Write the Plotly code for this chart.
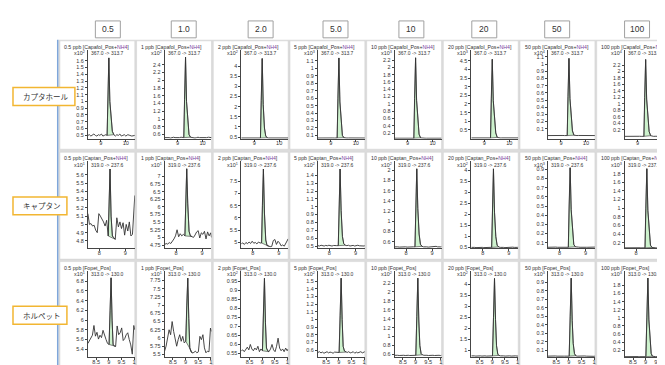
import plotly.graph_objects as go

W, H = 665, 365

# ---------------- data ----------------
HEADERS = ["0.5", "1.0", "2.0", "5.0", "10", "20", "50", "100"]
PANEL_CONC = ["0.5 ppb", "1 ppb", "2 ppb", "5 ppb", "10 ppb", "20 ppb", "50 ppb", "100 ppb"]
COMPOUNDS = ["カプタホール", "キャプタン", "ホルペット"]
CHANNELS = ["Capafol_Pos+NH4", "Captan_Pos+NH4", "Fopet_Pos"]
TRANSITIONS = ["367.0 -> 313.7", "319.0 -> 237.6", "313.0 -> 130.0"]
EXPONENTS = [[2, 2, 2, 3, 3, 3, 4, 4],
             [1, 1, 1, 2, 2, 2, 3, 3],
             [1, 1, 2, 2, 2, 2, 3, 3]]

X_RANGES = [[8.48, 10.36], [7.56, 9.36], [8.17, 10.03]]
X_TICKS = [[9, 10], [8, 9], [8.5, 9, 9.5, 10]]
X_TICK_TEXT = [["9", "10"], ["8", "9"], ["8.5", "9", "9.5", "1"]]
INT_WINDOWS = [[9.25, 9.52], [8.34, 8.61], [9.01, 9.27]]

# y axis ranges (display units) and tick (start, stop, step)
Y_RANGE_CAPAFOL = [[0.45, 1.76], [0.49, 2.79], [0.42, 4.8], [0.055, 1.25], [0.045, 2.48], [-0.02, 5.15], [-0.04, 1.2], [-0.075, 2.67]]
Y_TICKS_CAPAFOL = [[0.5, 1.6, 0.1], [0.6, 2.4, 0.2], [0.5, 4, 0.5], [0.1, 1.1, 0.1], [0.2, 2.2, 0.2], [0.5, 4.5, 0.5], [0.1, 1.1, 0.1], [0.2, 2.2, 0.2]]
Y_RANGE_CAPTAN = [[4.71, 5.765], [4.64, 7.5], [4.76, 8.31], [0.47, 1.58], [0.47, 2.18], [0.455, 4.42], [0.038, 0.99], [0.068, 2.09]]
Y_TICKS_CAPTAN = [[4.8, 5.6, 0.1], [4.75, 7, 0.25], [5, 7.5, 0.5], [0.5, 1.4, 0.1], [0.6, 2, 0.2], [0.5, 4, 0.5], [0.1, 0.9, 0.1], [0.2, 1.8, 0.2]]
Y_RANGE_FOLPET = [[5.24, 7.02], [5.42, 8.05], [0.53, 1.01], [0.51, 1.64], [0.54, 2.48], [0.685, 4.64], [0.019, 1.04], [0.03, 2.17]]
Y_TICKS_FOLPET = [[5.4, 6.8, 0.2], [5.5, 7.75, 0.25], [0.55, 0.95, 0.05], [0.6, 1.5, 0.1], [0.6, 2.2, 0.2], [1, 4, 0.5], [0.1, 0.9, 0.1], [0.2, 1.8, 0.2]]

# retention time grids (min)
T_CAPAFOL = [8.48, 8.54, 8.60, 8.66, 8.72, 8.78, 8.84, 8.90, 8.96, 9.02, 9.08, 9.14, 9.20,
             9.25, 9.28, 9.32, 9.36, 9.41, 9.46, 9.52,
             9.58, 9.64, 9.70, 9.76, 9.82, 9.88, 9.94, 10.00, 10.08, 10.16, 10.24, 10.36]
T_CAPTAN = [7.56, 7.62, 7.68, 7.74, 7.80, 7.86, 7.92, 7.98, 8.04, 8.10, 8.16, 8.22, 8.28,
            8.34, 8.37, 8.41, 8.45, 8.50, 8.55, 8.61,
            8.67, 8.73, 8.79, 8.85, 8.91, 8.97, 9.03, 9.09, 9.15, 9.21, 9.27, 9.33, 9.36]
T_FOLPET = [8.17, 8.23, 8.29, 8.35, 8.41, 8.47, 8.53, 8.59, 8.65, 8.71, 8.77, 8.83, 8.89, 8.95,
            9.01, 9.05, 9.09, 9.13, 9.17, 9.22, 9.27,
            9.33, 9.39, 9.45, 9.51, 9.57, 9.63, 9.69, 9.75, 9.81, 9.87, 9.93, 9.99, 10.03]

# Capafol intensities
CAPAFOL_05 = [0.50, 0.51, 0.49, 0.50, 0.52, 0.50, 0.49, 0.51, 0.50, 0.52, 0.49, 0.50, 0.51,
              0.50, 1.05, 1.64, 1.00, 0.70, 0.56, 0.51,
              0.49, 0.51, 0.50, 0.52, 0.49, 0.50, 0.51, 0.49, 0.51, 0.50, 0.49, 0.50]
CAPAFOL_1 = [0.52, 0.52, 0.53, 0.52, 0.51, 0.52, 0.53, 0.52, 0.52, 0.51, 0.52, 0.53, 0.52,
             0.52, 1.50, 2.60, 1.45, 0.85, 0.60, 0.53,
             0.52, 0.52, 0.51, 0.52, 0.53, 0.52, 0.52, 0.51, 0.52, 0.52, 0.53, 0.52]
CAPAFOL_2 = [0.46, 0.46, 0.47, 0.46, 0.45, 0.46, 0.47, 0.46, 0.46, 0.45, 0.46, 0.47, 0.46,
             0.46, 2.30, 4.37, 2.10, 0.95, 0.56, 0.47,
             0.46, 0.46, 0.45, 0.46, 0.47, 0.46, 0.46, 0.45, 0.46, 0.46, 0.47, 0.46]
CAPAFOL_5 = [0.065, 0.066, 0.065, 0.064, 0.065, 0.066, 0.065, 0.065, 0.064, 0.065, 0.066, 0.065, 0.065,
             0.066, 0.60, 1.14, 0.55, 0.25, 0.10, 0.07,
             0.065, 0.065, 0.066, 0.065, 0.064, 0.065, 0.065, 0.066, 0.065, 0.065, 0.064, 0.065]
CAPAFOL_10 = [0.06, 0.061, 0.06, 0.059, 0.06, 0.061, 0.06, 0.06, 0.059, 0.06, 0.061, 0.06, 0.06,
              0.06, 1.15, 2.26, 1.10, 0.48, 0.17, 0.07,
              0.06, 0.06, 0.061, 0.06, 0.059, 0.06, 0.06, 0.061, 0.06, 0.06, 0.059, 0.06]
CAPAFOL_20 = [0.03, 0.031, 0.03, 0.029, 0.03, 0.031, 0.03, 0.03, 0.029, 0.03, 0.031, 0.03, 0.03,
              0.03, 2.30, 4.60, 2.20, 0.95, 0.32, 0.06,
              0.03, 0.03, 0.031, 0.03, 0.029, 0.03, 0.03, 0.031, 0.03, 0.03, 0.029, 0.03]
CAPAFOL_50 = [0.005, 0.006, 0.005, 0.004, 0.005, 0.006, 0.005, 0.005, 0.004, 0.005, 0.006, 0.005, 0.005,
              0.005, 0.55, 1.08, 0.52, 0.22, 0.07, 0.01,
              0.005, 0.005, 0.006, 0.005, 0.004, 0.005, 0.005, 0.006, 0.005, 0.005, 0.004, 0.005]
CAPAFOL_100 = [0.0, 0.002, 0.0, -0.002, 0.0, 0.002, 0.0, 0.0, -0.002, 0.0, 0.002, 0.0, 0.0,
               0.0, 1.20, 2.37, 1.15, 0.50, 0.15, 0.02,
               0.0, 0.0, 0.002, 0.0, -0.002, 0.0, 0.0, 0.002, 0.0, 0.0, -0.002, 0.0]

# Captan intensities
CAPTAN_05 = [5.13, 5.00, 5.01, 4.98, 4.99, 4.93, 4.90, 5.13, 5.10, 5.07, 5.03, 4.98, 5.05,
             4.86, 5.25, 5.67, 5.10, 4.86, 4.84, 4.82,
             5.08, 4.97, 5.03, 4.95, 5.02, 4.87, 5.00, 4.92, 5.03, 4.86, 4.88, 5.25, 5.35]
CAPTAN_1 = [4.76, 4.80, 4.78, 4.83, 4.80, 4.86, 4.95, 5.05, 5.25, 5.02, 5.12, 5.05, 5.10,
            5.05, 6.20, 7.25, 6.10, 5.20, 5.05, 5.03,
            5.00, 5.08, 5.18, 5.22, 4.98, 5.15, 5.10, 5.20, 4.95, 5.18, 5.05, 5.15, 5.00]
CAPTAN_2 = [4.95, 4.98, 4.92, 5.00, 4.95, 5.02, 4.96, 5.05, 4.97, 5.00, 4.94, 5.02, 4.98,
            4.98, 6.50, 7.99, 6.20, 5.10, 4.88, 4.85,
            4.83, 4.84, 5.08, 5.12, 4.92, 5.05, 4.98, 4.86, 4.90, 4.85, 4.95, 5.10, 5.15]
CAPTAN_5 = [0.505, 0.50, 0.51, 0.505, 0.50, 0.508, 0.503, 0.51, 0.505, 0.50, 0.507, 0.503, 0.505,
            0.505, 1.00, 1.48, 0.95, 0.62, 0.53, 0.51,
            0.505, 0.51, 0.50, 0.505, 0.508, 0.50, 0.505, 0.51, 0.503, 0.50, 0.506, 0.50, 0.505]
CAPTAN_10 = [0.50, 0.505, 0.50, 0.495, 0.50, 0.505, 0.50, 0.50, 0.495, 0.50, 0.505, 0.50, 0.50,
             0.50, 1.30, 2.03, 1.25, 0.75, 0.55, 0.51,
             0.50, 0.505, 0.50, 0.495, 0.50, 0.505, 0.50, 0.50, 0.51, 0.50, 0.495, 0.50, 0.505]
CAPTAN_20 = [0.50, 0.51, 0.50, 0.49, 0.50, 0.51, 0.50, 0.50, 0.49, 0.50, 0.51, 0.50, 0.50,
             0.50, 2.30, 4.07, 2.10, 1.00, 0.60, 0.52,
             0.50, 0.51, 0.50, 0.49, 0.50, 0.51, 0.50, 0.50, 0.51, 0.50, 0.49, 0.50, 0.51]
CAPTAN_50 = [0.05, 0.052, 0.05, 0.048, 0.05, 0.052, 0.05, 0.05, 0.048, 0.05, 0.052, 0.05, 0.05,
             0.05, 0.50, 0.918, 0.46, 0.20, 0.08, 0.055,
             0.05, 0.052, 0.05, 0.048, 0.05, 0.052, 0.05, 0.05, 0.052, 0.05, 0.048, 0.05, 0.052]
CAPTAN_100 = [0.08, 0.082, 0.08, 0.078, 0.08, 0.082, 0.08, 0.08, 0.078, 0.08, 0.082, 0.08, 0.08,
              0.08, 1.00, 1.915, 0.95, 0.40, 0.14, 0.09,
              0.08, 0.082, 0.08, 0.078, 0.08, 0.082, 0.08, 0.08, 0.082, 0.08, 0.078, 0.08, 0.082]

# Folpet intensities
FOLPET_05 = [5.52, 5.57, 5.62, 5.69, 5.89, 5.67, 5.75, 5.61, 5.69, 5.64, 5.79, 5.67, 5.60, 5.52,
             5.50, 6.20, 6.87, 6.00, 5.49, 5.47, 5.46,
             5.88, 5.70, 5.74, 5.84, 5.58, 5.62, 5.70, 5.74, 5.60, 5.49, 5.30, 5.89, 5.80]
FOLPET_1 = [5.60, 5.75, 6.00, 6.25, 6.10, 6.50, 6.20, 6.00, 5.75, 5.95, 6.10, 5.90, 6.05, 5.85,
            5.90, 7.00, 7.82, 6.60, 5.70, 5.58, 5.55,
            5.56, 5.60, 5.55, 5.58, 6.05, 5.95, 6.10, 5.70, 5.55, 5.60, 5.58, 6.30, 6.20]
FOLPET_2 = [0.565, 0.57, 0.56, 0.575, 0.585, 0.57, 0.60, 0.575, 0.565, 0.58, 0.57, 0.59, 0.56, 0.575,
            0.565, 0.78, 0.967, 0.72, 0.58, 0.565, 0.56,
            0.575, 0.60, 0.57, 0.56, 0.59, 0.635, 0.58, 0.565, 0.575, 0.56, 0.58, 0.565, 0.575]
FOLPET_5 = [0.57, 0.58, 0.565, 0.575, 0.56, 0.57, 0.58, 0.565, 0.575, 0.57, 0.56, 0.575, 0.57, 0.565,
            0.57, 1.05, 1.54, 1.00, 0.65, 0.59, 0.575,
            0.57, 0.58, 0.565, 0.57, 0.58, 0.56, 0.575, 0.565, 0.57, 0.58, 0.565, 0.575, 0.58]
FOLPET_10 = [0.58, 0.585, 0.58, 0.575, 0.58, 0.59, 0.58, 0.575, 0.585, 0.58, 0.575, 0.58, 0.585, 0.58,
             0.58, 1.45, 2.31, 1.35, 0.80, 0.62, 0.59,
             0.58, 0.585, 0.58, 0.575, 0.58, 0.585, 0.58, 0.575, 0.58, 0.585, 0.58, 0.575, 0.58]
FOLPET_20 = [0.74, 0.75, 0.74, 0.73, 0.74, 0.76, 0.74, 0.73, 0.75, 0.74, 0.73, 0.74, 0.75, 0.74,
             0.74, 2.50, 4.28, 2.40, 1.20, 0.82, 0.76,
             0.74, 0.75, 0.74, 0.73, 0.74, 0.75, 0.74, 0.73, 0.74, 0.75, 0.74, 0.73, 0.74]
FOLPET_50 = [0.03, 0.032, 0.03, 0.028, 0.03, 0.032, 0.03, 0.028, 0.03, 0.032, 0.03, 0.03, 0.028, 0.03,
             0.03, 0.50, 0.95, 0.45, 0.18, 0.06, 0.035,
             0.03, 0.032, 0.03, 0.028, 0.03, 0.032, 0.03, 0.028, 0.03, 0.032, 0.03, 0.028, 0.03]
FOLPET_100 = [0.04, 0.042, 0.04, 0.038, 0.04, 0.042, 0.04, 0.038, 0.04, 0.042, 0.04, 0.04, 0.038, 0.04,
              0.04, 1.00, 1.985, 0.95, 0.40, 0.12, 0.05,
              0.04, 0.042, 0.04, 0.038, 0.04, 0.042, 0.04, 0.038, 0.04, 0.042, 0.04, 0.038, 0.04]

TIMES = [T_CAPAFOL, T_CAPTAN, T_FOLPET]
SIGNALS = [
    [CAPAFOL_05, CAPAFOL_1, CAPAFOL_2, CAPAFOL_5, CAPAFOL_10, CAPAFOL_20, CAPAFOL_50, CAPAFOL_100],
    [CAPTAN_05, CAPTAN_1, CAPTAN_2, CAPTAN_5, CAPTAN_10, CAPTAN_20, CAPTAN_50, CAPTAN_100],
    [FOLPET_05, FOLPET_1, FOLPET_2, FOLPET_5, FOLPET_10, FOLPET_20, FOLPET_50, FOLPET_100],
]
Y_RANGES = [Y_RANGE_CAPAFOL, Y_RANGE_CAPTAN, Y_RANGE_FOLPET]
Y_TICKS = [Y_TICKS_CAPAFOL, Y_TICKS_CAPTAN, Y_TICKS_FOLPET]

# ---------------- geometry / style ----------------
COL_LEFTS = [52 + 76.8 * c for c in range(8)]
PANEL_W = 75
ROW_TOPS = [33, 145, 255]
ROW_BOTTOMS = [142, 252.5, 363]
PLOT_TOPS = [42, 154, 264]
PLOT_BOTTOMS = [131.5, 241.7, 351]
HEADER_CX = [100, 176, 253, 328, 404, 477, 550, 630]
LABEL_BOXES = [(5, 67, 80, 98), (5, 59, 190, 208), (5, 59, 300, 318)]

FONT = "Liberation Sans, Arial, sans-serif"
TXT = "#333333"
AX = "#454545"


def px(x):
    return min(1.0, max(0.0, x / W))


def py(y):
    return min(1.0, max(0.0, 1 - y / H))


fig = go.Figure()
shapes = []
annotations = []
layout = {}

# grey grid background and blue separator
shapes.append(dict(type="rect", xref="paper", yref="paper", x0=px(50.5), x1=px(665),
                   y0=py(365), y1=py(32), fillcolor="#dcdcdc", line_width=0, layer="below"))
shapes.append(dict(type="line", xref="paper", yref="paper", x0=px(49.8), x1=px(49.8),
                   y0=py(365), y1=py(32), line=dict(color="#7fa6da", width=1.5), layer="above"))

for r in range(3):
    T = TIMES[r]
    for c in range(8):
        idx = r * 8 + c + 1
        sfx = "" if idx == 1 else str(idx)
        left = COL_LEFTS[c]
        top = ROW_TOPS[r]
        # white panel
        shapes.append(dict(type="rect", xref="paper", yref="paper", x0=px(left), x1=px(left + PANEL_W),
                           y0=py(ROW_BOTTOMS[r]), y1=py(top), fillcolor="white",
                           line=dict(color="#cfcfcf", width=0.5), layer="below"))
        V = SIGNALS[r][c]
        a, b = INT_WINDOWS[r]
        fx = [t for t in T if a - 1e-9 <= t <= b + 1e-9]
        fy = [v for t, v in zip(T, V) if a - 1e-9 <= t <= b + 1e-9]
        fx.append(fx[0])
        fy.append(fy[0])
        fig.add_trace(go.Scatter(x=fx, y=fy, mode="lines", fill="toself", fillcolor="#cdf2cd",
                                 line=dict(color="#4d4d4d", width=0.7), hoverinfo="skip",
                                 xaxis="x" + sfx, yaxis="y" + sfx, showlegend=False))
        fig.add_trace(go.Scatter(x=T, y=V, mode="lines", line=dict(color="#333333", width=0.9),
                                 xaxis="x" + sfx, yaxis="y" + sfx, showlegend=False))
        y0, y1, ys = Y_TICKS[r][c]
        n = int(round((y1 - y0) / ys))
        yv = [round(y0 + i * ys, 6) for i in range(n + 1)]
        yt = ["{:g}".format(v) for v in yv]
        layout["xaxis" + sfx] = dict(
            domain=[px(left + 28), px(left + PANEL_W)], range=X_RANGES[r], anchor="y" + sfx,
            tickvals=X_TICKS[r], ticktext=X_TICK_TEXT[r], ticks="outside", ticklen=2,
            tickcolor=AX, showline=True, linecolor=AX, linewidth=1, showgrid=False,
            zeroline=False, tickfont=dict(family=FONT, size=5.6, color=TXT),
            ticklabelstandoff=-3)
        layout["yaxis" + sfx] = dict(
            domain=[py(PLOT_BOTTOMS[r]), py(PLOT_TOPS[r])], range=Y_RANGES[r][c], anchor="x" + sfx,
            tickvals=yv, ticktext=yt, ticks="outside", ticklen=2, tickcolor=AX,
            showline=True, linecolor=AX, linewidth=1, showgrid=False, zeroline=False,
            tickfont=dict(family=FONT, size=5.4, color=TXT))
        ch = CHANNELS[r].replace("NH4", "<span style='color:#7a3d9e'>NH4</span>")
        annotations.append(dict(xref="paper", yref="paper", x=px(left + 2.5), y=py(top + 6),
                                xanchor="left", yanchor="middle", showarrow=False,
                                text=PANEL_CONC[c] + " [" + ch + "]",
                                font=dict(family=FONT, size=5.2, color=TXT)))
        annotations.append(dict(xref="paper", yref="paper", x=px(left + 27), y=py(top + 12.5),
                                xanchor="right", yanchor="middle", showarrow=False,
                                text="x10<sup>%d</sup>" % EXPONENTS[r][c],
                                font=dict(family=FONT, size=5.4, color=TXT)))
        annotations.append(dict(xref="paper", yref="paper", x=px(left + 29), y=py(top + 12.5),
                                xanchor="left", yanchor="middle", showarrow=False,
                                text=TRANSITIONS[r],
                                font=dict(family=FONT, size=5.0, color=TXT)))

# column headers
for c in range(8):
    cx = HEADER_CX[c]
    shapes.append(dict(type="rect", xref="paper", yref="paper", x0=px(cx - 12.5), x1=px(cx + 12.5),
                       y0=py(30), y1=py(13), fillcolor="white",
                       line=dict(color="#a0a0a0", width=1), layer="above"))
    annotations.append(dict(xref="paper", yref="paper", x=px(cx), y=py(21.5), xanchor="center",
                            yanchor="middle", showarrow=False, text=HEADERS[c],
                            font=dict(family=FONT, size=8.5, color=TXT)))

# compound labels
for r in range(3):
    x0, x1, y0, y1 = LABEL_BOXES[r]
    shapes.append(dict(type="rect", xref="paper", yref="paper", x0=px(x0), x1=px(x1),
                       y0=py(y1), y1=py(y0), fillcolor="white",
                       line=dict(color="#f2b632", width=1.5), layer="above"))
    annotations.append(dict(xref="paper", yref="paper", x=px(x0 + 8), y=py((y0 + y1) / 2),
                            xanchor="left", yanchor="middle", showarrow=False, text=COMPOUNDS[r],
                            font=dict(family="Noto Sans CJK JP, sans-serif", size=7.5, color=TXT)))

common = dict(width=W, height=H, autosize=False, margin=dict(l=0, r=0, t=0, b=0),
              paper_bgcolor="white", plot_bgcolor="rgba(0,0,0,0)", showlegend=False,
              shapes=shapes, annotations=annotations)
try:
    fig.update_layout(**common, **layout)
except ValueError:
    for k in layout:
        if k.startswith("xaxis"):
            layout[k].pop("ticklabelstandoff", None)
    fig.update_layout(**common, **layout)
fig.write_html("out.html")
